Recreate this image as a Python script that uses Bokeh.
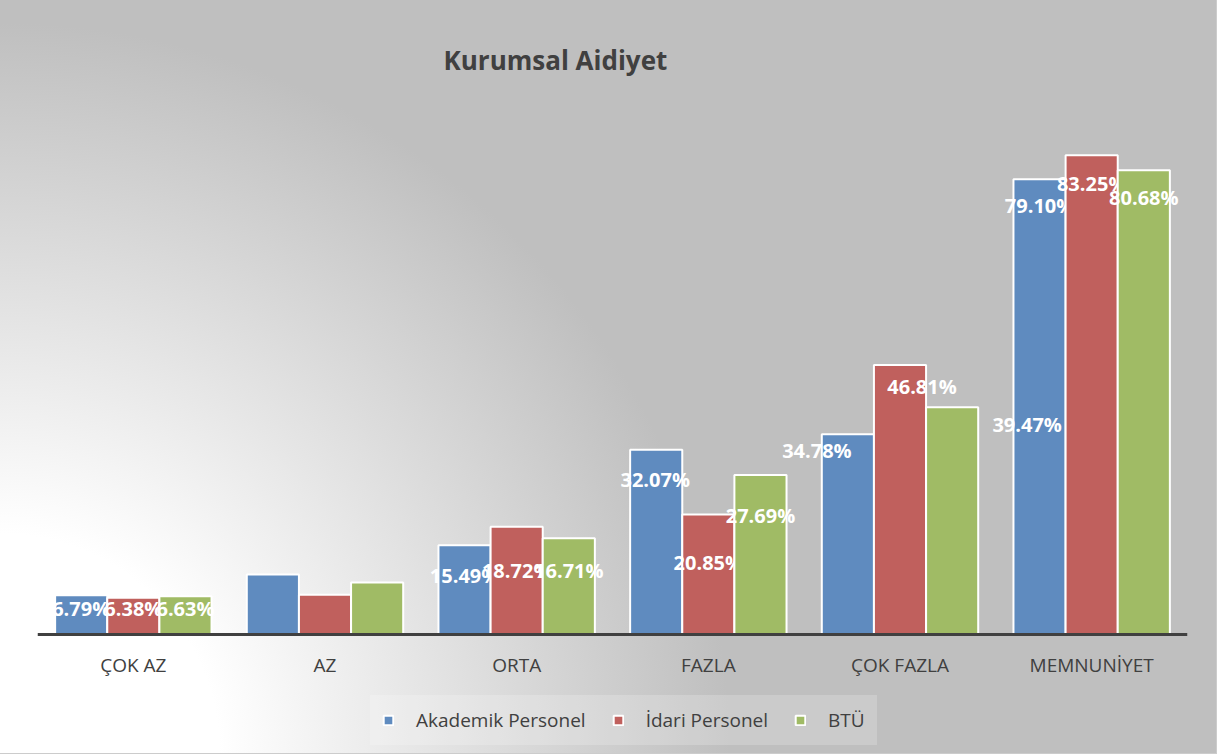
from bokeh.plotting import figure
from bokeh.models import ColumnDataSource, Legend, LegendItem, Range1d
from bokeh.transform import dodge
from bokeh.core.properties import value
from bokeh.embed import file_html
from bokeh.resources import INLINE

# ---- data ----
categories = ["ÇOK AZ", "AZ", "ORTA", "FAZLA", "ÇOK FAZLA", "MEMNUNİYET"]
series_names = ["Akademik Personel", "İdari Personel", "BTÜ"]
akademik = [6.79, 10.4, 15.49, 32.07, 34.78, 79.10]
idari = [6.38, 6.9, 18.72, 20.85, 46.81, 83.25]
btu = [6.63, 9.0, 16.71, 27.69, 39.47, 80.68]
label_shown = [True, False, True, True, True, True]

# ---- styles ----
colors = ["#5f8bbf", "#c0605d", "#a0bb65"]
offsets = [-0.272, 0.0, 0.272]
bar_w = 0.272
# pixel offsets of the data labels relative to bar tops (style only)
label_dx = [[0, 0, 0, -1, -31, 0], [0, 0, 0, 0, 22, 0], [0, 0, 0, 0, 75, 0]]
label_dy = [[13, 0, 30, 30, 16, 26], [11, 0, 44, 48, 21, 28], [12, 0, 32, 40, 17, 27]]
FONT = "Open Sans"
TXT = "#404040"

p = figure(
    x_range=categories, y_range=Range1d(-20.7, 90),
    frame_width=1150, frame_height=637,
    output_backend="svg", toolbar_location=None,
    min_border_left=37, min_border_right=29, min_border_top=116, min_border_bottom=0,
)
p.styles = {
    "background": "radial-gradient(circle 730px at 0px 100%, #ffffff 0%, #ffffff 30%, #bfbfbf 100%)",
    "outline": "1px solid #cccccc",
}
p.background_fill_alpha = 0
p.border_fill_alpha = 0
p.outline_line_color = None
p.xgrid.visible = False
p.ygrid.visible = False
p.yaxis.visible = False

p.title.text = "Kurumsal Aidiyet"
p.title.text_font = FONT
p.title.text_font_size = "26px"
p.title.text_font_style = "bold"
p.title.text_color = TXT
p.title.align = "left"
p.title.offset = 406
p.title.standoff = 78

xa = p.xaxis[0]
xa.fixed_location = 0
xa.axis_line_color = "#404040"
xa.axis_line_width = 3
xa.major_tick_line_color = None
xa.minor_tick_line_color = None
xa.major_label_text_font = FONT
xa.major_label_text_font_size = "19px"
xa.major_label_text_color = TXT
xa.major_label_standoff = 12

series_vals = [akademik, idari, btu]
items = []
for i, (name, vals) in enumerate(zip(series_names, series_vals)):
    src = ColumnDataSource(dict(cat=categories, val=vals))
    r = p.vbar(x=dodge("cat", offsets[i], range=p.x_range), top="val", width=bar_w,
               source=src, fill_color=colors[i], line_color="white", line_width=2)
    items.append(LegendItem(label=name, renderers=[r]))

    cats_l = [c for c, s in zip(categories, label_shown) if s]
    vals_l = [v for v, s in zip(vals, label_shown) if s]
    dx_l = [d for d, s in zip(label_dx[i], label_shown) if s]
    dy_l = [d for d, s in zip(label_dy[i], label_shown) if s]
    lsrc = ColumnDataSource(dict(cat=cats_l, val=vals_l,
                                 txt=["%.2f%%" % v for v in vals_l], dx=dx_l, dy=dy_l))
    p.text(x=dodge("cat", offsets[i], range=p.x_range), y="val", text="txt",
           x_offset="dx", y_offset="dy", source=lsrc,
           text_font=value(FONT), text_font_size="20px", text_font_style="bold",
           text_color="white", text_align="center", text_baseline="middle")

legend = Legend(items=items, orientation="horizontal", location=(333, 8))
legend.label_text_font = FONT
legend.label_text_font_size = "19px"
legend.label_text_color = TXT
legend.glyph_width = 12
legend.glyph_height = 12
legend.label_standoff = 22
legend.spacing = 26
legend.padding = 12
legend.margin = 0
legend.background_fill_color = "white"
legend.background_fill_alpha = 0.2
legend.border_line_alpha = 0
p.add_layout(legend, "center")

open("out.html", "w").write(file_html(p, INLINE))
